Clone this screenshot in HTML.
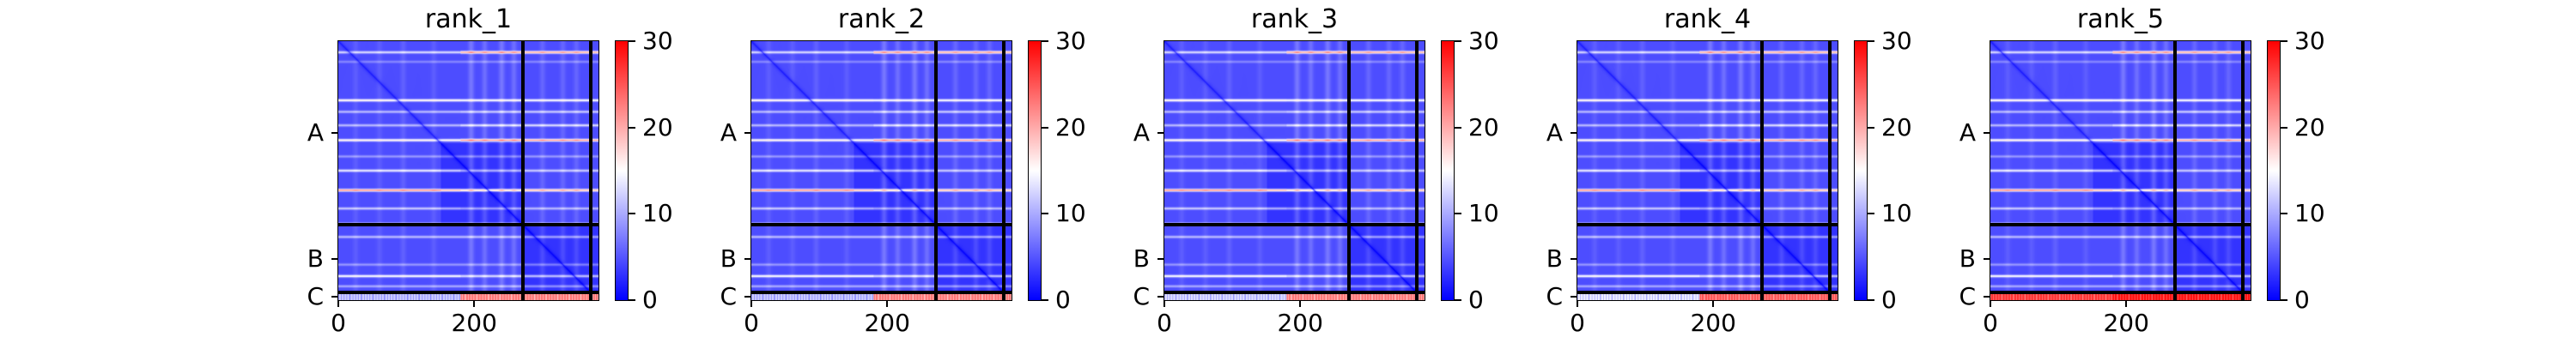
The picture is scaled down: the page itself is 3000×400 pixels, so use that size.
<!DOCTYPE html>
<html><head><meta charset="utf-8">
<style>
body{margin:0;background:#fff;width:3000px;height:400px;overflow:hidden;font-family:"DejaVu Sans","Liberation Sans",sans-serif;}
#root{position:relative;width:3000px;height:400px;}
.t{position:absolute;color:#000;white-space:nowrap;}
</style></head><body>
<div id="root"></div>
<script>
// ---- data ----
const panelTitles = ["rank_1","rank_2","rank_3","rank_4","rank_5"];
const chainNames = ["A","B","C"];
const chainBounds = [0, 272, 372, 383];
const xTicks = [0, 200];
const cbarTicks = [0, 10, 20, 30];
const vmax = 30;
// row bands: residue index, peak value (left part), peak value (right part, cols>180)
const bandRows = [16, 30, 87, 104, 124, 146, 170, 191, 220, 247, 270, 289, 330, 347, 362];
const bandLeft = [13, 8, 16, 11, 11, 16, 9, 14, 22, 12, 17, 11, 9, 15, 10];
const bandRight = [21, 8, 15, 12, 13, 21, 9, 12, 20, 11, 18, 11, 9, 13, 10];
// column stripes (lighter vertical bands)
const colStripes = [25, 60, 95, 140, 195, 215, 240, 258, 300, 330, 350];
const colStripeAmp = [1, 1, 1.2, 1, 2.5, 2, 2.5, 2, 1.5, 1.5, 1.5];
// chain C rows values per panel: [cols<180, cols>=180]
const cRowLeft = [12, 12, 13, 14, 27];
const cRowRight = [23, 23, 23, 25, 29];
const baseValue = 4.5;

// ---- layout ----
const root = document.getElementById('root');
const P0 = 394, DX = 481, TOP = 48, AW = 303, AH = 302;
const N = chainBounds[3];
function sx(r){return r/N*AW;}
function sy(r){return r/N*AH;}
function cmap(v){
  let t=Math.max(0,Math.min(1,v/vmax));
  if(t<0.5){const a=Math.round(2*t*255);return [a,a,255];}
  const a=Math.round((2-2*t)*255);return [255,a,a];
}
function div(name,css,text){
  const d=document.createElement('div');
  
  
  d.style.cssText='position:absolute;'+css;
  if(text!==undefined){d.className='t';d.textContent=text;}
  root.appendChild(d);return d;
}
function value(p,i,j){
  let v=baseValue;
  for(let k=0;k<colStripes.length;k++){const d=j-colStripes[k];v+=colStripeAmp[k]*Math.exp(-d*d/18);}
  for(let k=0;k<bandRows.length;k++){
    const d=i-bandRows[k];
    const pk=(j>=180?bandRight[k]:bandLeft[k])-baseValue;
    v+=pk*Math.exp(-d*d/3.5);
  }
  if(i>=chainBounds[2]){ v = j>=180?cRowRight[p]:cRowLeft[p]; v+= ((j*13)%17<5?-4:0); }
  const dd=Math.abs(i-j);
  if(i<chainBounds[2]) v = v*(1-0.7*Math.exp(-dd/2.5));
  if(i<272&&j<272&&i>150&&j>150&&i<chainBounds[2]) v-=1.5;
  if(i>=272&&j>=272&&i<chainBounds[2]) v-=1.5;
  return Math.max(0,v);
}
panelTitles.forEach((title,p)=>{
  const L=P0+p*DX;
  div('panel-title-'+(p+1),`left:${L}px;top:5px;width:${AW}px;text-align:center;font-size:30px;`,title);
  const c=document.createElement('canvas');
  c.width=N;c.height=N;
  
  
  c.style.cssText=`position:absolute;left:${L}px;top:${TOP}px;width:${AW}px;height:${AH}px;`;
  const ctx=c.getContext('2d');const img=ctx.createImageData(N,N);
  for(let i=0;i<N;i++)for(let j=0;j<N;j++){
    const col=cmap(value(p,i,j));const o=(i*N+j)*4;
    img.data[o]=col[0];img.data[o+1]=col[1];img.data[o+2]=col[2];img.data[o+3]=255;
  }
  ctx.putImageData(img,0,0);root.appendChild(c);
  div('axes-frame-'+(p+1),`left:${L-1}px;top:${TOP-1}px;width:${AW}px;height:${AH}px;border:1.5px solid #000;`);
  [chainBounds[1],chainBounds[2]].forEach((b,k)=>{
    div('chain-divider-v-'+k,`left:${L+sx(b)-2}px;top:${TOP}px;width:4px;height:${AH}px;background:#000;`);
    div('chain-divider-h-'+k,`left:${L}px;top:${TOP+sy(b)-2}px;width:${AW}px;height:4px;background:#000;`);
  });
  chainNames.forEach((n,k)=>{
    const y=TOP+sy((chainBounds[k]+chainBounds[k+1])/2);
    div('y-tick-'+n,`left:${L-8}px;top:${y-1}px;width:8px;height:2px;background:#000;`);
    div('y-label-'+n,`left:${L-47}px;top:${y-17}px;width:30px;text-align:right;font-size:28px;`,n);
  });
  xTicks.forEach(t=>{
    const x=L+sx(t);
    div('x-tick-'+t,`left:${x-1}px;top:${TOP+AH}px;width:2px;height:8px;background:#000;`);
    div('x-label-'+t,`left:${x-40}px;top:${TOP+AH+10}px;width:80px;text-align:center;font-size:28px;`,String(t));
  });
  const CL=L+322;
  div('colorbar-'+(p+1),`left:${CL}px;top:${TOP-1}px;width:14px;height:${AH}px;border:1.5px solid #000;background:linear-gradient(to top,#0000ff,#ffffff 50%,#ff0000);`);
  cbarTicks.forEach(t=>{
    const y=TOP+AH-t/vmax*AH;
    div('colorbar-tick-'+t,`left:${CL+16}px;top:${y-1}px;width:8px;height:2px;background:#000;`);
    div('colorbar-label-'+t,`left:${CL+32}px;top:${y-17}px;font-size:28px;`,String(t));
  });
});
</script>
</body></html>
